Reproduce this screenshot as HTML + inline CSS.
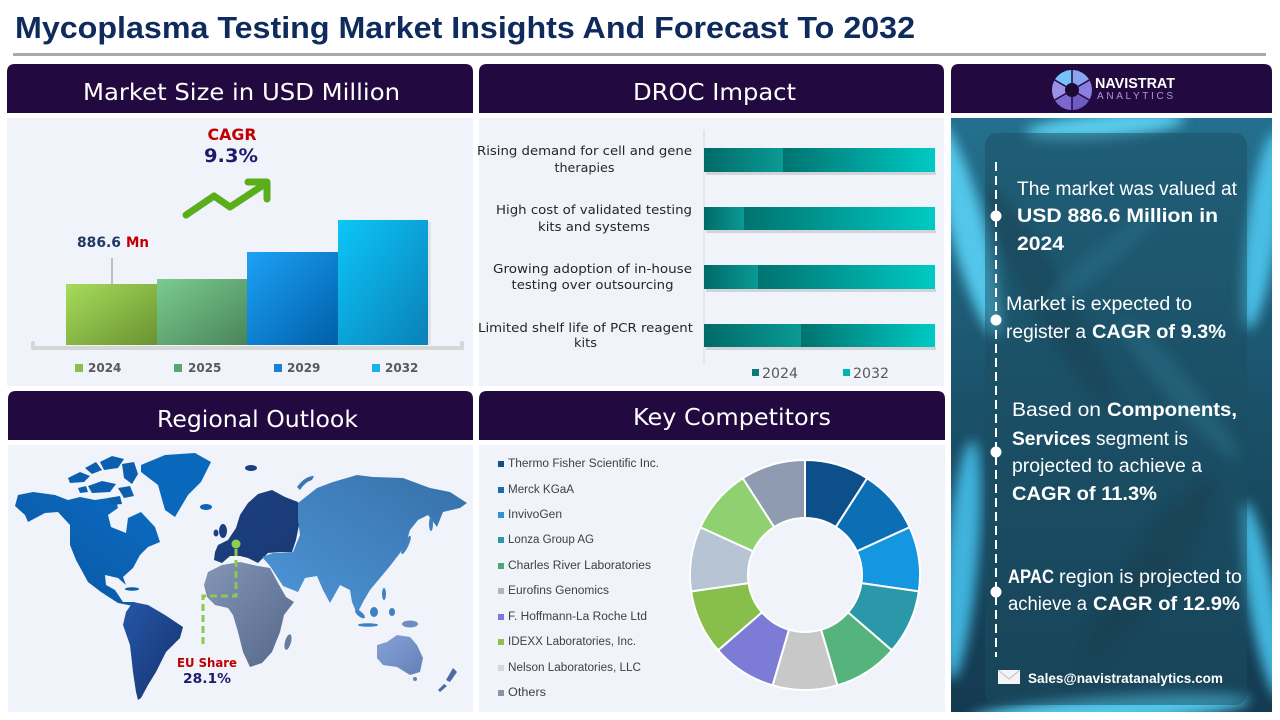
<!DOCTYPE html>
<html><head><meta charset="utf-8"><style>
html,body{margin:0;padding:0;background:#fff;}
svg{display:block;}
</style></head><body>
<svg width="1280" height="720" viewBox="0 0 1280 720" xmlns="http://www.w3.org/2000/svg">
<defs>
<linearGradient id="g24" x1="0" y1="0" x2="1" y2="1"><stop offset="0" stop-color="#a6dc5a"/><stop offset="1" stop-color="#6a9232"/></linearGradient>
<linearGradient id="g25" x1="0" y1="0" x2="1" y2="1"><stop offset="0" stop-color="#7acc90"/><stop offset="1" stop-color="#4a845a"/></linearGradient>
<linearGradient id="g29" x1="0" y1="0" x2="1" y2="1"><stop offset="0" stop-color="#1ca2f6"/><stop offset="1" stop-color="#005ea8"/></linearGradient>
<linearGradient id="g32" x1="0" y1="0" x2="1" y2="1"><stop offset="0" stop-color="#0cc6f8"/><stop offset="1" stop-color="#0a80b8"/></linearGradient>
<linearGradient id="d24" x1="0" y1="0" x2="1" y2="0"><stop offset="0" stop-color="#006a68"/><stop offset="1" stop-color="#0a9a94"/></linearGradient>
<linearGradient id="d32" x1="0" y1="0" x2="1" y2="0"><stop offset="0" stop-color="#00736f"/><stop offset="1" stop-color="#00cac4"/></linearGradient>
<linearGradient id="mNA" x1="1" y1="0" x2="0" y2="1"><stop offset="0" stop-color="#0a6cc4"/><stop offset="1" stop-color="#0c559f"/></linearGradient>
<linearGradient id="mSA" x1="0" y1="0" x2="1" y2="1"><stop offset="0" stop-color="#2656a8"/><stop offset="1" stop-color="#14336c"/></linearGradient>
<linearGradient id="mEU" x1="0" y1="0" x2="1" y2="1"><stop offset="0" stop-color="#1c3f82"/><stop offset="1" stop-color="#1a3a74"/></linearGradient>
<linearGradient id="mAS" x1="0" y1="1" x2="1" y2="0"><stop offset="0" stop-color="#4e96d8"/><stop offset="1" stop-color="#3670a8"/></linearGradient>
<linearGradient id="mAF" x1="0" y1="0" x2="1" y2="1"><stop offset="0" stop-color="#8396b6"/><stop offset="1" stop-color="#55678a"/></linearGradient>
<linearGradient id="mAU" x1="0" y1="0" x2="1" y2="1"><stop offset="0" stop-color="#86a2d8"/><stop offset="1" stop-color="#6580b6"/></linearGradient>
<linearGradient id="rpbg" x1="0" y1="0" x2="0" y2="1"><stop offset="0" stop-color="#24708e"/><stop offset="0.5" stop-color="#1a5068"/><stop offset="1" stop-color="#143a50"/></linearGradient>
<filter id="bl" x="-50%" y="-50%" width="200%" height="200%"><feGaussianBlur stdDeviation="6"/></filter>
<clipPath id="rpc"><rect x="951" y="118" width="321" height="594"/></clipPath>
</defs>

<!-- Title -->
<text x="15" y="38" font-family="Liberation Sans, sans-serif" font-weight="bold" font-size="31" fill="#0f2a5c" textLength="900" lengthAdjust="spacingAndGlyphs">Mycoplasma Testing Market Insights And Forecast To 2032</text>
<rect x="13" y="53" width="1253" height="3" fill="#a9a9a9"/>

<!-- Headers -->
<path d="M7,113 V72 Q7,64 15,64 H465 Q473,64 473,72 V113 Z" fill="#22093f"/>
<path d="M479,113 V72 Q479,64 487,64 H936 Q944,64 944,72 V113 Z" fill="#22093f"/>
<path d="M8,440 V399 Q8,391 16,391 H465 Q473,391 473,399 V440 Z" fill="#22093f"/>
<path d="M479,440 V399 Q479,391 487,391 H937 Q945,391 945,399 V440 Z" fill="#22093f"/>
<path d="M951,113 V72 Q951,64 959,64 H1264 Q1272,64 1272,72 V113 Z" fill="#22093f"/>

<g font-family="DejaVu Sans, sans-serif" font-size="23" fill="#ffffff">
<text x="83" y="100" textLength="317" lengthAdjust="spacingAndGlyphs">Market Size in USD Million</text>
<text x="633" y="100" textLength="163" lengthAdjust="spacingAndGlyphs">DROC Impact</text>
<text x="157" y="427" textLength="201" lengthAdjust="spacingAndGlyphs">Regional Outlook</text>
<text x="633" y="425" textLength="198" lengthAdjust="spacingAndGlyphs">Key Competitors</text>
</g>

<!-- Bodies -->
<rect x="7" y="118" width="466" height="268" fill="#f0f3fa"/>
<rect x="479" y="118" width="465" height="268" fill="#f0f3fa"/>
<rect x="8" y="445" width="465" height="267" fill="#f0f3fa"/>
<rect x="479" y="445" width="466" height="267" fill="#f0f3fa"/>

<!-- Market size chart -->
<text x="232" y="140" text-anchor="middle" font-family="DejaVu Sans, sans-serif" font-weight="bold" font-size="16" fill="#c00000" textLength="49" lengthAdjust="spacingAndGlyphs">CAGR</text>
<text x="231" y="162" text-anchor="middle" font-family="DejaVu Sans, sans-serif" font-weight="bold" font-size="19" fill="#1e1a6c" textLength="54" lengthAdjust="spacingAndGlyphs">9.3%</text>
<polyline points="186,215 214,196 230,207 262,186" fill="none" stroke="#5aae1a" stroke-width="7" stroke-linecap="round" stroke-linejoin="round"/>
<polyline points="248,182 267,182 267,199" fill="none" stroke="#5aae1a" stroke-width="7" stroke-linecap="round" stroke-linejoin="round"/>
<text x="77" y="247" font-family="DejaVu Sans, sans-serif" font-weight="bold" font-size="14" fill="#1f3864" textLength="44" lengthAdjust="spacingAndGlyphs">886.6</text>
<text x="126" y="247" font-family="DejaVu Sans, sans-serif" font-weight="bold" font-size="14" fill="#c00000" textLength="23" lengthAdjust="spacingAndGlyphs">Mn</text>
<line x1="112" y1="258" x2="112" y2="284" stroke="#8a8a8a" stroke-width="1"/>
<rect x="66" y="284" width="91" height="61" fill="url(#g24)"/>
<rect x="157" y="279" width="90" height="66" fill="url(#g25)"/>
<rect x="247" y="252" width="91" height="93" fill="url(#g29)"/>
<rect x="338" y="220" width="90" height="125" fill="url(#g32)"/>
<rect x="428" y="222" width="3" height="123" fill="#000" opacity="0.06"/>
<path d="M33,343 V348 H462 V343" fill="none" stroke="#d6d6d6" stroke-width="4" stroke-linejoin="round" stroke-linecap="round"/>
<g font-family="DejaVu Sans, sans-serif" font-weight="bold" font-size="12" fill="#595959">
<rect x="75" y="364" width="8" height="8" fill="#8cc040"/><text x="88" y="372">2024</text>
<rect x="174" y="364" width="8" height="8" fill="#5aa870"/><text x="188" y="372">2025</text>
<rect x="274" y="364" width="8" height="8" fill="#1880d8"/><text x="287" y="372">2029</text>
<rect x="372" y="364" width="8" height="8" fill="#18b0e8"/><text x="385" y="372">2032</text>
</g>

<!-- DROC chart -->
<line x1="704" y1="130" x2="704" y2="365" stroke="#d9d9d9" stroke-width="1"/>
<g fill="#000" opacity="0.12">
<rect x="706" y="172" width="230" height="3"/>
<rect x="706" y="230" width="230" height="3"/>
<rect x="706" y="289" width="230" height="3"/>
<rect x="706" y="347" width="230" height="3"/>
</g>
<rect x="704" y="148" width="79" height="24" fill="url(#d24)"/>
<rect x="783" y="148" width="152" height="24" fill="url(#d32)"/>
<rect x="704" y="207" width="40" height="23" fill="url(#d24)"/>
<rect x="744" y="207" width="191" height="23" fill="url(#d32)"/>
<rect x="704" y="265" width="54" height="24" fill="url(#d24)"/>
<rect x="758" y="265" width="177" height="24" fill="url(#d32)"/>
<rect x="704" y="324" width="97" height="23" fill="url(#d24)"/>
<rect x="801" y="324" width="134" height="23" fill="url(#d32)"/>
<g font-family="DejaVu Sans, sans-serif" font-size="12" fill="#262626" text-anchor="middle">
<text x="584.5" y="155" textLength="215" lengthAdjust="spacingAndGlyphs">Rising demand for cell and gene</text>
<text x="584.5" y="172" textLength="60" lengthAdjust="spacingAndGlyphs">therapies</text>
<text x="594" y="214" textLength="196" lengthAdjust="spacingAndGlyphs">High cost of validated testing</text>
<text x="594" y="231" textLength="112" lengthAdjust="spacingAndGlyphs">kits and systems</text>
<text x="592.5" y="273" textLength="199" lengthAdjust="spacingAndGlyphs">Growing adoption of in-house</text>
<text x="592.5" y="289" textLength="162" lengthAdjust="spacingAndGlyphs">testing over outsourcing</text>
<text x="585.5" y="332" textLength="215" lengthAdjust="spacingAndGlyphs">Limited shelf life of PCR reagent</text>
<text x="585.5" y="347" textLength="23" lengthAdjust="spacingAndGlyphs">kits</text>
</g>
<rect x="752" y="369" width="7" height="7" fill="#0a7a78"/>
<text x="762" y="378" font-family="DejaVu Sans, sans-serif" font-size="14" fill="#595959" textLength="36" lengthAdjust="spacingAndGlyphs">2024</text>
<rect x="843" y="369" width="7" height="7" fill="#00b4ae"/>
<text x="853" y="378" font-family="DejaVu Sans, sans-serif" font-size="14" fill="#595959" textLength="36" lengthAdjust="spacingAndGlyphs">2032</text>

<!-- Map -->
<g>
<path d="M15,506 L18,495 L33,492 L55,495 L68,500 L80,497 L95,500 L115,497 L118,508 L108,515 L111,527 L126,533 L128,518 L141,512 L155,527 L160,542 L148,547 L140,555 L133,568 L123,577 L126,585 L118,578 L105,575 L106,585 L115,590 L123,602 L135,602 L133,606 L118,603 L101,592 L88,582 L76,560 L70,545 L70,525 L58,512 L45,513 L28,522 L25,515 Z" fill="url(#mNA)"/>
<g fill="#0b5fae">
<path d="M68,478 L80,472 L90,476 L84,482 L70,483 Z"/>
<path d="M85,468 L96,462 L102,470 L92,474 Z"/>
<path d="M100,462 L112,456 L124,459 L118,468 L104,470 Z"/>
<path d="M122,464 L134,462 L138,474 L132,484 L124,478 Z"/>
<path d="M88,486 L102,481 L116,484 L110,492 L92,493 Z"/>
<path d="M118,488 L130,486 L134,496 L124,498 Z"/>
<path d="M78,488 L86,486 L88,492 L80,493 Z"/>
<path d="M108,498 L120,496 L122,504 L112,505 Z"/>
<ellipse cx="132" cy="589" rx="7" ry="1.8"/>
</g>
<path d="M141,465 L165,455 L195,453 L211,462 L201,482 L188,495 L175,517 L165,510 L158,485 L141,472 Z" fill="#0a68bc"/>
<ellipse cx="206" cy="507" rx="6" ry="3" fill="#0a66b8"/>
<path d="M133,602 L148,605 L165,615 L183,627 L180,638 L166,652 L156,672 L148,685 L141,698 L138,700 L136,692 L133,672 L130,645 L123,625 L126,612 Z" fill="url(#mSA)"/>
<path d="M208,572 L222,565 L240,562 L258,566 L270,568 L278,583 L286,597 L294,602 L284,615 L280,632 L272,652 L262,663 L250,667 L243,652 L238,632 L233,615 L228,608 L215,605 L207,597 L204,585 Z" fill="url(#mAF)"/>
<ellipse cx="288" cy="642" rx="3" ry="8" fill="#6a7c9c" transform="rotate(15 288 642)"/>
<path d="M215,552 L218,545 L228,540 L236,528 L240,515 L248,503 L258,494 L272,490 L285,497 L298,502 L300,520 L296,540 L292,552 L280,552 L268,553 L258,563 L248,558 L240,556 L230,556 L222,563 L214,560 Z" fill="url(#mEU)"/>
<ellipse cx="223" cy="531" rx="4" ry="7" fill="#1c3f82"/>
<ellipse cx="216" cy="533" rx="2.5" ry="3.5" fill="#1c3f82"/>
<ellipse cx="251" cy="468" rx="6" ry="3" fill="#1c3f82"/>
<path d="M298,503 L317,488 L333,482 L357,475 L373,477 L403,478 L430,488 L450,492 L467,503 L460,508 L443,512 L437,527 L428,515 L418,520 L410,530 L407,540 L400,553 L390,566 L380,578 L370,590 L363,602 L357,614 L352,602 L350,590 L340,585 L330,603 L323,590 L317,576 L305,578 L298,592 L283,586 L270,566 L262,557 L273,553 L293,552 L300,535 L298,520 Z" fill="url(#mAS)"/>
<path d="M297,487 Q305,476 314,476 L312,480 Q305,482 300,490 Z" fill="#3a78b4"/>
<g fill="#3e80c0">
<ellipse cx="406" cy="545" rx="2.5" ry="10" transform="rotate(25 406 545)"/>
<ellipse cx="431" cy="524" rx="2" ry="7"/>
<ellipse cx="384" cy="594" rx="2" ry="6"/>
<ellipse cx="360" cy="614" rx="6" ry="2.5" transform="rotate(40 360 614)"/>
<ellipse cx="374" cy="612" rx="4" ry="5"/>
<ellipse cx="368" cy="625" rx="10" ry="1.8"/>
<ellipse cx="392" cy="612" rx="3" ry="4"/>
</g>
<ellipse cx="410" cy="624" rx="8" ry="3.5" fill="#6e8cc4"/>
<path d="M377,645 L387,642 L397,635 L410,637 L417,645 L423,658 L420,672 L410,675 L397,667 L383,665 L377,658 Z" fill="url(#mAU)"/>
<ellipse cx="415" cy="679" rx="2" ry="2" fill="#6580b6"/>
<path d="M453,668 L457,672 L450,682 L446,680 Z M444,684 L447,686 L440,692 L438,690 Z" fill="#4a6aa8"/>
</g>
<circle cx="236" cy="544" r="4.5" fill="#8ccf52"/>
<path d="M236,549 V596 H203 V648" fill="none" stroke="#8cc850" stroke-width="3" stroke-dasharray="7 4"/>
<text x="207" y="667" text-anchor="middle" font-family="DejaVu Sans, sans-serif" font-weight="bold" font-size="12.5" fill="#c00000" textLength="60" lengthAdjust="spacingAndGlyphs">EU Share</text>
<text x="207" y="683" text-anchor="middle" font-family="DejaVu Sans, sans-serif" font-weight="bold" font-size="13" fill="#1e1a6c" textLength="48" lengthAdjust="spacingAndGlyphs">28.1%</text>

<!-- Competitors legend -->
<g font-family="Liberation Sans, sans-serif" font-size="11.5" fill="#404040">
<rect x="498" y="461" width="6" height="6" fill="#174e82"/><text x="508" y="467" textLength="151" lengthAdjust="spacingAndGlyphs">Thermo Fisher Scientific Inc.</text>
<rect x="498" y="487" width="6" height="6" fill="#1a6cac"/><text x="508" y="493" textLength="66" lengthAdjust="spacingAndGlyphs">Merck KGaA</text>
<rect x="498" y="512" width="6" height="6" fill="#2a96d8"/><text x="508" y="518" textLength="54" lengthAdjust="spacingAndGlyphs">InvivoGen</text>
<rect x="498" y="537" width="6" height="6" fill="#2a98a4"/><text x="508" y="543" textLength="86" lengthAdjust="spacingAndGlyphs">Lonza Group AG</text>
<rect x="498" y="563" width="6" height="6" fill="#4aa870"/><text x="508" y="569" textLength="143" lengthAdjust="spacingAndGlyphs">Charles River Laboratories</text>
<rect x="498" y="588" width="6" height="6" fill="#b4b4b4"/><text x="508" y="594" textLength="101" lengthAdjust="spacingAndGlyphs">Eurofins Genomics</text>
<rect x="498" y="614" width="6" height="6" fill="#7a7ad8"/><text x="508" y="620" textLength="139" lengthAdjust="spacingAndGlyphs">F. Hoffmann-La Roche Ltd</text>
<rect x="498" y="639" width="6" height="6" fill="#8cc048"/><text x="508" y="645" textLength="128" lengthAdjust="spacingAndGlyphs">IDEXX Laboratories, Inc.</text>
<rect x="498" y="665" width="6" height="6" fill="#d0d8e0"/><text x="508" y="671" textLength="133" lengthAdjust="spacingAndGlyphs">Nelson Laboratories, LLC</text>
<rect x="498" y="690" width="6" height="6" fill="#8a94a4"/><text x="508" y="696" textLength="38" lengthAdjust="spacingAndGlyphs">Others</text>
</g>

<!-- Donut -->
<g stroke="#ffffff" stroke-width="2" stroke-linejoin="round">
<path d="M805,460 A115,115 0 0 1 867.17,478.25 L835.81,527.05 A57,57 0 0 0 805,518 Z" fill="#0d4f8a"/>
<path d="M867.17,478.25 A115,115 0 0 1 909.60,527.23 L856.85,551.32 A57,57 0 0 0 835.81,527.05 Z" fill="#0c6fb5"/>
<path d="M909.60,527.23 A115,115 0 0 1 918.83,591.36 L861.42,583.11 A57,57 0 0 0 856.85,551.32 Z" fill="#1596e0"/>
<path d="M918.83,591.36 A115,115 0 0 1 891.91,650.31 L848.07,612.33 A57,57 0 0 0 861.42,583.11 Z" fill="#2b98aa"/>
<path d="M891.91,650.31 A115,115 0 0 1 837.40,685.34 L821.06,629.69 A57,57 0 0 0 848.07,612.33 Z" fill="#55b47c"/>
<path d="M837.40,685.34 A115,115 0 0 1 772.60,685.34 L788.94,629.69 A57,57 0 0 0 821.06,629.69 Z" fill="#c8c8c8"/>
<path d="M772.60,685.34 A115,115 0 0 1 718.09,650.31 L761.93,612.33 A57,57 0 0 0 788.94,629.69 Z" fill="#7c7cd6"/>
<path d="M718.09,650.31 A115,115 0 0 1 691.17,591.36 L748.58,583.11 A57,57 0 0 0 761.93,612.33 Z" fill="#88bf4c"/>
<path d="M691.17,591.36 A115,115 0 0 1 700.40,527.23 L753.15,551.32 A57,57 0 0 0 748.58,583.11 Z" fill="#b6c4d4"/>
<path d="M700.40,527.23 A115,115 0 0 1 742.83,478.25 L774.19,527.05 A57,57 0 0 0 753.15,551.32 Z" fill="#8fd070"/>
<path d="M742.83,478.25 A115,115 0 0 1 805,460 L805,518 A57,57 0 0 0 774.19,527.05 Z" fill="#8e9bb0"/>
</g>

<!-- Logo -->
<g transform="translate(1072,90)">
<path d="M0,0 L0,-20 A20,20 0 0 1 17.32,-10 Z" fill="#8aa4f0"/>
<path d="M0,0 L17.32,-10 A20,20 0 0 1 17.32,10 Z" fill="#8a7ee0"/>
<path d="M0,0 L17.32,10 A20,20 0 0 1 0,20 Z" fill="#6c5cc4"/>
<path d="M0,0 L0,20 A20,20 0 0 1 -17.32,10 Z" fill="#7a68d0"/>
<path d="M0,0 L-17.32,10 A20,20 0 0 1 -17.32,-10 Z" fill="#9a90e6"/>
<path d="M0,0 L-17.32,-10 A20,20 0 0 1 0,-20 Z" fill="#78c0f8"/>
<g stroke="#22093f" stroke-width="1.5"><line x1="0" y1="0" x2="0" y2="-20"/><line x1="0" y1="0" x2="17.32" y2="-10"/><line x1="0" y1="0" x2="17.32" y2="10"/><line x1="0" y1="0" x2="0" y2="20"/><line x1="0" y1="0" x2="-17.32" y2="10"/><line x1="0" y1="0" x2="-17.32" y2="-10"/></g>
<circle r="7" fill="#1c0a36"/>
</g>
<text x="1095" y="88" font-family="Liberation Sans, sans-serif" font-weight="bold" font-size="15" fill="#ffffff" textLength="80" lengthAdjust="spacingAndGlyphs">NAVISTRAT</text>
<text x="1097" y="99" font-family="Liberation Sans, sans-serif" font-size="10" fill="#a99ad8" textLength="76" lengthAdjust="spacing">ANALYTICS</text>

<!-- Right panel -->
<g clip-path="url(#rpc)">
<rect x="951" y="118" width="321" height="594" fill="url(#rpbg)"/>
<g filter="url(#bl)">
<ellipse cx="968" cy="230" rx="18" ry="110" fill="#52c6ea" transform="rotate(-15 968 230)"/>
<ellipse cx="1105" cy="126" rx="80" ry="12" fill="#5accec" transform="rotate(-5 1105 126)"/>
<ellipse cx="1262" cy="230" rx="16" ry="100" fill="#48bde4" transform="rotate(8 1262 230)"/>
<ellipse cx="962" cy="560" rx="16" ry="120" fill="#3fb2dc" transform="rotate(5 962 560)"/>
<ellipse cx="1110" cy="710" rx="140" ry="14" fill="#52c6ea" transform="rotate(-4 1110 710)"/>
<ellipse cx="1262" cy="600" rx="14" ry="100" fill="#42b6de" transform="rotate(-10 1262 600)"/>
<ellipse cx="1050" cy="300" rx="20" ry="130" fill="#0e2f40" opacity="0.5" transform="rotate(-30 1050 300)"/>
<ellipse cx="1150" cy="570" rx="22" ry="110" fill="#0d2a3a" opacity="0.5" transform="rotate(35 1150 570)"/>
<ellipse cx="1180" cy="390" rx="14" ry="90" fill="#3a98b8" opacity="0.45" transform="rotate(-40 1180 390)"/>
<ellipse cx="1100" cy="260" rx="12" ry="70" fill="#3a9cbc" opacity="0.4" transform="rotate(50 1100 260)"/>
</g>
<rect x="985" y="133" width="262" height="572" rx="12" fill="#1c4e62" opacity="0.5"/>
</g>
<line x1="996" y1="162" x2="996" y2="657" stroke="#ffffff" stroke-width="2" stroke-dasharray="9 5"/>
<g fill="#ffffff">
<circle cx="996" cy="216" r="5.5"/>
<circle cx="996" cy="320" r="5.5"/>
<circle cx="996" cy="452" r="5.5"/>
<circle cx="996" cy="592" r="5.5"/>
</g>
<g font-family="Liberation Sans, sans-serif" font-size="19" fill="#ffffff">
<text x="1017" y="195" textLength="220" lengthAdjust="spacingAndGlyphs">The market was valued at</text>
<text x="1017" y="222" font-weight="bold" textLength="201" lengthAdjust="spacingAndGlyphs">USD 886.6 Million in</text>
<text x="1017" y="250" font-weight="bold" textLength="47" lengthAdjust="spacingAndGlyphs">2024</text>
<text x="1006" y="310" textLength="186" lengthAdjust="spacingAndGlyphs">Market is expected to</text>
<text x="1006" y="338" textLength="80" lengthAdjust="spacingAndGlyphs">register a</text>
<text x="1092" y="338" font-weight="bold" textLength="134" lengthAdjust="spacingAndGlyphs">CAGR of 9.3%</text>
<text x="1012" y="416" textLength="89" lengthAdjust="spacingAndGlyphs">Based on</text>
<text x="1107" y="416" font-weight="bold" textLength="130" lengthAdjust="spacingAndGlyphs">Components,</text>
<text x="1012" y="445" font-weight="bold" textLength="79" lengthAdjust="spacingAndGlyphs">Services</text>
<text x="1096" y="445" textLength="92" lengthAdjust="spacingAndGlyphs">segment is</text>
<text x="1012" y="472" textLength="190" lengthAdjust="spacingAndGlyphs">projected to achieve a</text>
<text x="1012" y="500" font-weight="bold" textLength="145" lengthAdjust="spacingAndGlyphs">CAGR of 11.3%</text>
<text x="1008" y="583" font-weight="bold" textLength="46" lengthAdjust="spacingAndGlyphs">APAC</text>
<text x="1059" y="583" textLength="183" lengthAdjust="spacingAndGlyphs">region is projected to</text>
<text x="1008" y="610" textLength="79" lengthAdjust="spacingAndGlyphs">achieve a</text>
<text x="1093" y="610" font-weight="bold" textLength="147" lengthAdjust="spacingAndGlyphs">CAGR of 12.9%</text>
</g>
<rect x="998" y="670" width="22" height="14" fill="#f4f4f4"/>
<polyline points="998,670 1009,679 1020,670" fill="none" stroke="#bdbdbd" stroke-width="1"/>
<text x="1028" y="683" font-family="Liberation Sans, sans-serif" font-weight="bold" font-size="14" fill="#ffffff" textLength="195" lengthAdjust="spacingAndGlyphs">Sales@navistratanalytics.com</text>
</svg>
</body></html>
